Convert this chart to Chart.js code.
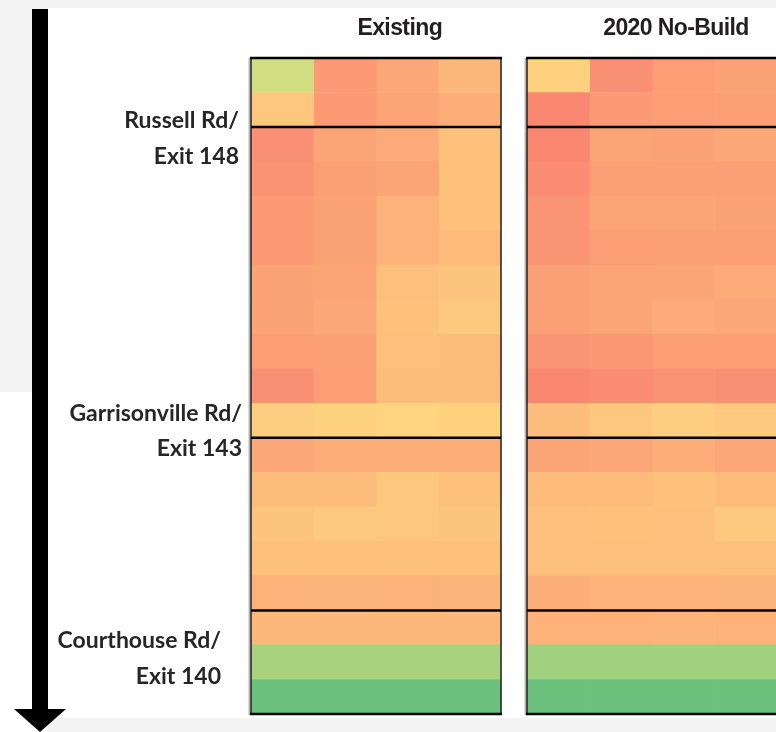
<!DOCTYPE html>
<html><head><meta charset="utf-8">
<script src="https://cdn.jsdelivr.net/npm/chart.js@4.4.1/dist/chart.umd.min.js"></script>
<style>html,body{margin:0;padding:0;background:#fff;overflow:hidden}canvas{display:block}</style>
</head><body>
<canvas id="c" width="776" height="732"></canvas>
<script>
// ---------- DATA ----------
const segments = ['1','2','3','4','5','6','7','8','9','10','11','12','13','14','15','16','17','18','19'];
const periods = ['Period 1','Period 2','Period 3','Period 4'];
const scenarios = ['Existing', '2020 No-Build'];
// speed (mph) per segment (rows) and period (columns)
const speedExisting = [
  [56,19,24,30],[36,19,23,27],[15,23,25,34],[16,21,23,34],[19,22,28,34],
  [19,22,28,31],[22,23,33,35],[22,24,34,37],[20,21,33,32],[15,20,32,32],
  [39,40,41,40],[24,26,26,26],[32,32,36,34],[35,37,36,35],[34,34,34,34],
  [28,29,28,29],[30,30,30,30],[61,61,61,61],[69,69,69,69]
];
const speedNoBuild = [
  [40,15,20,22],[12,19,20,21],[12,23,22,24],[14,21,21,21],[17,23,23,22],
  [17,20,21,21],[21,23,23,25],[21,23,25,24],[17,18,20,20],[12,14,16,15],
  [32,36,39,37],[23,24,26,24],[31,31,34,31],[33,34,33,37],[33,33,33,33],
  [27,28,28,29],[28,28,29,28],[62,62,62,62],[69,69,69,69]
];
const interchanges = [['Russell Rd/','Exit 148'],['Garrisonville Rd/','Exit 143'],['Courthouse Rd/','Exit 140']];
const sectionBreaks = [2, 11, 16]; // first segment index of each new section
const colorScale = {min: 0, mid: 50, max: 70};

// ---------- LAYOUT / STYLE ----------
const panelGap = 0.416;               // gap between panels, in column units
const xMax = 8.4;
const labelRowPos = [1.53, 10.0, 16.6]; // row position of first label line
const labelLineStep = 1.03;
const labelRight = [239, 242, 221];
const headerX = [2.38, 6.8];

function lerp(a,b,t){return Math.round(a+(b-a)*t);}
function speedColor(v){
  const lo=[248,105,107], mid=[255,235,132], hi=[99,190,123];
  let a,b,t;
  if(v<=colorScale.mid){a=lo;b=mid;t=(v-colorScale.min)/(colorScale.mid-colorScale.min);}
  else {a=mid;b=hi;t=(v-colorScale.mid)/(colorScale.max-colorScale.mid);}
  t=Math.max(0,Math.min(1,t));
  return 'rgb('+lerp(a[0],b[0],t)+','+lerp(a[1],b[1],t)+','+lerp(a[2],b[2],t)+')';
}

const panelData = [speedExisting, speedNoBuild];
const panelStart = [0, periods.length + panelGap];
const datasets = [];
panelData.forEach((vals, p) => {
  periods.forEach((per, c) => {
    const s = panelStart[p] + c;
    datasets.push({
      label: scenarios[p] + ' ' + per,
      data: segments.map((seg) => ({y: seg, x: [s, s + 1]})),
      backgroundColor: vals.map(r => speedColor(r[c])),
      borderWidth: 0,
      grouped: false,
      barPercentage: 1,
      categoryPercentage: 1
    });
  });
});

const bgPlugin = {
  id: 'bg',
  beforeDraw(chart){
    const ctx = chart.ctx;
    ctx.save();
    ctx.fillStyle = '#f4f4f4';
    ctx.fillRect(0,0,776,732);
    ctx.fillStyle = '#ffffff';
    ctx.fillRect(48,8,728,710);
    ctx.fillRect(0,392,48,340);
    ctx.restore();
  }
};

const overlayPlugin = {
  id: 'overlay',
  afterDatasetsDraw(chart){
    const ctx = chart.ctx, xs = chart.scales.x, ys = chart.scales.y;
    const top = chart.chartArea.top, bot = chart.chartArea.bottom;
    ctx.save();
    panelStart.forEach(s => {
      const x0 = xs.getPixelForValue(s), x1 = xs.getPixelForValue(s + periods.length);
      ctx.strokeStyle = 'rgba(120,120,120,0.55)';
      ctx.lineWidth = 2;
      ctx.beginPath(); ctx.moveTo(x0-1.5, top); ctx.lineTo(x0-1.5, bot+1); ctx.stroke();
      ctx.strokeStyle = '#222';
      ctx.lineWidth = 1.5;
      ctx.beginPath();
      ctx.moveTo(x0, top); ctx.lineTo(x0, bot);
      ctx.moveTo(x1, top); ctx.lineTo(x1, bot);
      ctx.stroke();
      ctx.strokeStyle = '#000';
      ctx.lineWidth = 2.5;
      ctx.beginPath();
      ctx.moveTo(x0-1, top); ctx.lineTo(x1+1, top);
      ctx.moveTo(x0-1, bot); ctx.lineTo(x1+1, bot);
      sectionBreaks.forEach(b => {
        const y = ys.getPixelForValue(b - 0.5);
        ctx.moveTo(x0, y); ctx.lineTo(x1, y);
      });
      ctx.stroke();
    });
    ctx.restore();
  },
  afterDraw(chart){
    const ctx = chart.ctx, xs = chart.scales.x, ys = chart.scales.y;
    const top = chart.chartArea.top;
    ctx.save();
    // headers
    ctx.fillStyle = '#231f20';
    ctx.font = 'bold 23px "Liberation Sans", Arial, sans-serif';
    try { ctx.letterSpacing = '-0.6px'; } catch(e) {}
    ctx.textAlign = 'center';
    ctx.textBaseline = 'alphabetic';
    scenarios.forEach((t, i) => ctx.fillText(t, xs.getPixelForValue(headerX[i]), top - 23));
    try { ctx.letterSpacing = '0px'; } catch(e) {}
    // interchange labels
    ctx.fillStyle = '#262626';
    ctx.font = 'bold 23px Lato, "Open Sans", sans-serif';
    ctx.textAlign = 'right';
    interchanges.forEach((lines, i) => {
      lines.forEach((ln, j) => {
        ctx.fillText(ln, labelRight[i], ys.getPixelForValue(labelRowPos[i] + j*labelLineStep));
      });
    });
    // direction arrow
    ctx.fillStyle = '#000';
    ctx.fillRect(32, 9, 16, 702);
    ctx.beginPath();
    ctx.moveTo(14, 709); ctx.lineTo(66, 709); ctx.lineTo(40, 732); ctx.closePath();
    ctx.fill();
    ctx.restore();
  }
};

new Chart(document.getElementById('c'), {
  type: 'bar',
  data: {labels: segments, datasets},
  options: {
    indexAxis: 'y',
    responsive: false,
    animation: false,
    layout: {padding: {left: 251, top: 58, right: 0, bottom: 18}},
    plugins: {legend: {display: false}, tooltip: {enabled: false}},
    scales: {
      x: {type: 'linear', min: 0, max: xMax, display: false},
      y: {type: 'category', labels: segments, display: false, offset: true}
    }
  },
  plugins: [bgPlugin, overlayPlugin]
});
</script>
</body></html>
